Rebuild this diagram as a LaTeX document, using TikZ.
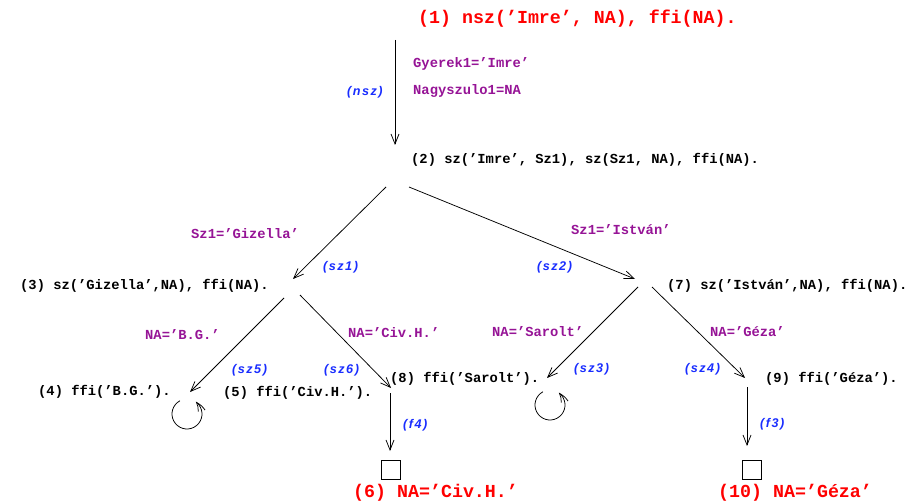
\documentclass[tikz,border=0pt]{standalone}
\usepackage{fontspec}
\usetikzlibrary{arrows.meta,bending}
\newfontfamily\codefont{Liberation Mono}
\newfontfamily\tagfont{Liberation Sans}[LetterSpace=12]
\definecolor{goalred}{RGB}{255,0,0}
\definecolor{bindpurple}{RGB}{150,20,150}
\definecolor{ruleblue}{RGB}{25,45,255}
\tikzset{
  goal/.style={anchor=west, inner sep=0pt, font=\codefont\bfseries\fontsize{13.8}{16}\selectfont},
  final/.style={goal, text=goalred, font=\codefont\bfseries\fontsize{18.3}{21}\selectfont},
  binding/.style={goal, text=bindpurple},
  rule/.style={anchor=west, inner sep=0pt, text=ruleblue, font=\tagfont\bfseries\itshape\fontsize{12.6}{15}\selectfont},
  edge/.style={line width=0.75pt, -{Straight Barb[length=10pt,width=8pt]}},
  failloop/.style={line width=0.75pt, -{Straight Barb[length=10pt,width=7pt,bend]}},
  leaf/.style={draw, line width=0.75pt, minimum size=19pt, inner sep=0pt},
}
\begin{document}
\begin{tikzpicture}[x=1pt,y=-1pt]
\path[use as bounding box] (0,0) rectangle (910,502);

% goals of the derivation tree
\node[final] (n1) at (418,19) {(1) nsz(’Imre’, NA), ffi(NA).};
\node[goal] (n2) at (411,160) {(2) sz(’Imre’, Sz1), sz(Sz1, NA), ffi(NA).};
\node[goal] (n3) at (20,286) {(3) sz(’Gizella’,NA), ffi(NA).};
\node[goal] (n7) at (667,286) {(7) sz(’István’,NA), ffi(NA).};
\node[goal] (n4) at (38,392) {(4) ffi(’B.G.’).};
\node[goal] (n5) at (223,393) {(5) ffi(’Civ.H.’).};
\node[goal] (n8) at (390,379) {(8) ffi(’Sarolt’).};
\node[goal] (n9) at (765,379) {(9) ffi(’Géza’).};
\node[final] (n6) at (353,493) {(6) NA=’Civ.H.’};
\node[final] (n10) at (718,493) {(10) NA=’Géza’};

% variable bindings
\node[binding] (b1) at (413,64) {Gyerek1=’Imre’};
\node[binding] (b2) at (413,91) {Nagyszulo1=NA};
\node[binding] (b3) at (191,234) {Sz1=’Gizella’};
\node[binding] (b4) at (571,230) {Sz1=’István’};
\node[binding] (b5) at (145,335) {NA=’B.G.’};
\node[binding] (b6) at (348,333) {NA=’Civ.H.’};
\node[binding] (b7) at (492,332) {NA=’Sarolt’};
\node[binding] (b8) at (710,332) {NA=’Géza’};

% clauses used
\node[rule] (r0) at (347,92) {(nsz)};
\node[rule] (r1) at (323,267) {(sz1)};
\node[rule] (r2) at (537,267) {(sz2)};
\node[rule] (r5) at (232,370) {(sz5)};
\node[rule] (r6) at (324,370) {(sz6)};
\node[rule] (r3) at (574,369) {(sz3)};
\node[rule] (r4) at (685,369) {(sz4)};
\node[rule] (rf4) at (403,425) {(f4)};
\node[rule] (rf3) at (760,424) {(f3)};

% empty clauses (success)
\node[leaf] (e6) at (390.5,470) {};
\node[leaf] (e10) at (752,470) {};

% edge end points
\coordinate (p1s) at (395,40);   \coordinate (p1e) at (395,145);
\coordinate (p2s) at (386,187);  \coordinate (p2e) at (293,279);
\coordinate (p3s) at (409,187);  \coordinate (p3e) at (635,279);
\coordinate (p4s) at (284,298);  \coordinate (p4e) at (190,392);
\coordinate (p5s) at (300,295);  \coordinate (p5e) at (391,388);
\coordinate (p6s) at (638,287);  \coordinate (p6e) at (547,378);
\coordinate (p7s) at (652,287);  \coordinate (p7e) at (745,378);
\coordinate (p8s) at (390,393);  \coordinate (p8e) at (390,451);
\coordinate (p9s) at (747,387);  \coordinate (p9e) at (747,446);
\coordinate (l1) at (187,414);
\coordinate (l2) at (550,405);

\draw[edge] (p1s) -- (p1e);
\draw[edge] (p2s) -- (p2e);
\draw[edge] (p3s) -- (p3e);
\draw[edge] (p4s) -- (p4e);
\draw[edge] (p5s) -- (p5e);
\draw[edge] (p6s) -- (p6e);
\draw[edge] (p7s) -- (p7e);
\draw[edge] (p8s) -- (p8e);
\draw[edge] (p9s) -- (p9e);

% failure loops
\draw[failloop] (l1) ++(-118:15) arc[start angle=-118, end angle=-415, radius=15];
\draw[failloop] (l2) ++(-118:15) arc[start angle=-118, end angle=-415, radius=15];
\end{tikzpicture}
\end{document}
